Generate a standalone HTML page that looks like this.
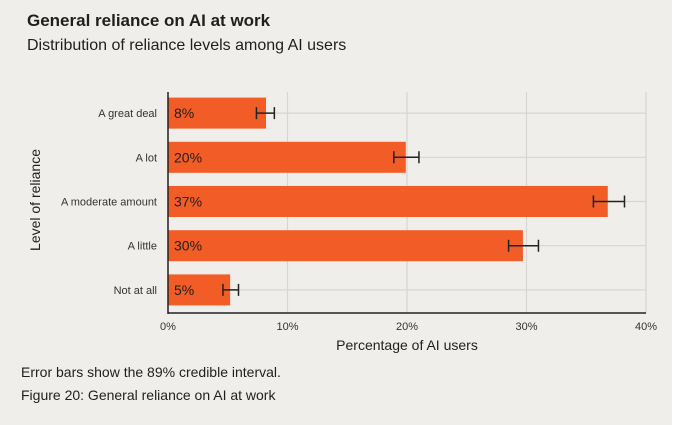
<!DOCTYPE html>
<html><head><meta charset="utf-8"><style>
body{margin:0;width:680px;height:425px;overflow:hidden;background:#fff;font-family:"Liberation Sans",sans-serif;}
#wrap{position:absolute;left:0;top:0;width:672px;height:425px;background:#efeeeb;}
.t{position:absolute;color:#1f1f1f;white-space:nowrap;}
</style></head><body>
<div id="wrap">
<div class="t" style="left:27px;top:11px;font-size:17px;font-weight:bold;">General reliance on AI at work</div>
<div class="t" style="left:27px;top:37px;font-size:16px;">Distribution of reliance levels among AI users</div>
<svg id="chart" width="680" height="360" style="position:absolute;left:0;top:0"></svg>
<div class="t" style="left:21px;top:364px;font-size:14px;">Error bars show the 89% credible interval.</div>
<div class="t" style="left:21px;top:387px;font-size:14px;">Figure 20: General reliance on AI at work</div>
</div>
<script>
const categories=["A great deal","A lot","A moderate amount","A little","Not at all"];
const values=[8.2,19.9,36.8,29.7,5.2];
const labels=["8%","20%","37%","30%","5%"];
const errLow=[7.4,18.9,35.6,28.5,4.6];
const errHigh=[8.9,21.0,38.2,31.0,5.9];
const ticks=[0,10,20,30,40];
const tickLabels=["0%","10%","20%","30%","40%"];
const svg=document.getElementById('chart');
const NS="http://www.w3.org/2000/svg";
const x0=168,x1=646,yTop=92,yBot=313;
const xs=v=>x0+(v/40)*(x1-x0);
const band=(yBot-yTop)/categories.length;
const yc=i=>yTop+band*(i+0.5)-1;
function mk(tag,attrs,txt){const e=document.createElementNS(NS,tag);for(const k in attrs)e.setAttribute(k,attrs[k]);if(txt!==undefined)e.textContent=txt;svg.appendChild(e);return e;}
ticks.forEach((t,i)=>{
 const g=mk('line',{x1:xs(t),x2:xs(t),y1:yTop,y2:yBot,stroke:'#d6d5d2','stroke-width':1.2});
 
 
 const l=mk('text',{x:xs(t),y:330,'font-size':11,'text-anchor':'middle',fill:'#333'},tickLabels[i]);
 
 
});
categories.forEach((c,i)=>{
 const y=yc(i);
 const g=mk('line',{x1:x0,x2:x1,y1:y,y2:y,stroke:'#d6d5d2','stroke-width':1.2});
 
 
 const b=mk('rect',{x:x0,y:y-15.5,width:xs(values[i])-x0,height:31,fill:'#f25c26'});
 
 
 const v=mk('text',{x:x0+6,y:y+5,'font-size':14,fill:'#1f1f1f'},labels[i]);
 
 
 const e=mk('path',{d:`M${xs(errLow[i])},${y}H${xs(errHigh[i])}M${xs(errLow[i])},${y-6}V${y+6}M${xs(errHigh[i])},${y-6}V${y+6}`,stroke:'#222','stroke-width':1.5,fill:'none'});
 
 
 const cl=mk('text',{x:157,y:y+4,'font-size':11,'text-anchor':'end',fill:'#333'},c);
 
 
});
const ax=mk('line',{x1:x0,x2:x0,y1:yTop,y2:yBot+1,stroke:'#222','stroke-width':1.5});


const bx=mk('line',{x1:x0,x2:x1,y1:yBot,y2:yBot,stroke:'#222','stroke-width':1.5});


const xt=mk('text',{x:(x0+x1)/2,y:350,'font-size':14,'text-anchor':'middle',fill:'#1f1f1f'},'Percentage of AI users');


const yt=mk('text',{x:0,y:0,'font-size':14,'text-anchor':'middle',fill:'#1f1f1f',transform:'translate(40,200) rotate(-90)'},'Level of reliance');


</script>
</body></html>
